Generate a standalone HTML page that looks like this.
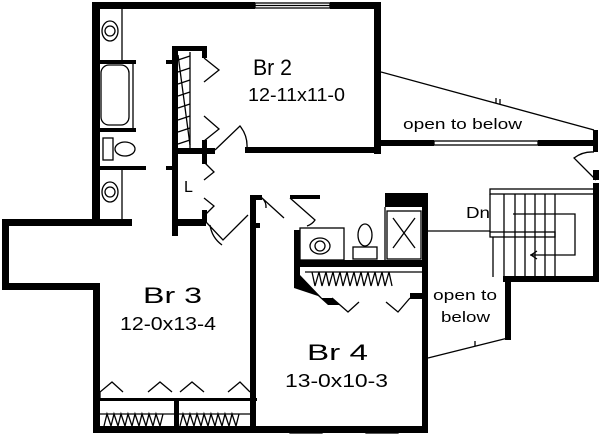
<!DOCTYPE html>
<html><head><meta charset="utf-8"><style>
html,body{margin:0;padding:0;background:#fff;}
svg{display:block}
text{font-family:"Liberation Sans",sans-serif;fill:#000}
</style></head><body>
<svg width="600" height="436" viewBox="0 0 600 436" xmlns="http://www.w3.org/2000/svg">
<g fill="#000" stroke="none">
<rect x="92" y="2" width="163" height="7"/>
<rect x="330" y="2" width="50" height="7"/>
<rect x="92" y="2" width="8" height="220"/>
<rect x="374" y="2" width="7" height="152"/>
<rect x="173" y="148" width="42" height="6"/>
<rect x="245" y="147" width="133" height="6"/>
<rect x="376" y="140" width="58" height="6"/>
<rect x="538" y="140" width="60" height="6"/>
<rect x="593" y="130" width="5" height="22"/>
<rect x="172" y="46" width="6" height="190"/>
<rect x="172" y="46" width="34" height="5"/>
<rect x="202" y="46" width="5" height="12"/>
<rect x="202" y="140" width="5" height="24"/>
<rect x="202" y="210" width="5" height="12"/>
<rect x="96" y="60" width="40" height="4"/>
<rect x="166" y="60" width="8" height="4"/>
<rect x="96" y="128" width="40" height="4"/>
<rect x="96" y="166" width="50" height="4"/>
<rect x="166" y="166" width="8" height="4"/>
<rect x="2" y="219" width="130" height="7"/>
<rect x="172" y="219" width="34" height="7"/>
<rect x="2" y="219" width="7" height="70"/>
<rect x="2" y="283" width="98" height="7"/>
<rect x="93" y="283" width="7" height="150"/>
<rect x="93" y="426" width="334" height="7"/>
<rect x="250" y="195" width="6" height="238"/>
<rect x="250" y="223" width="10" height="5"/>
<rect x="250" y="195" width="12" height="5"/>
<rect x="290" y="195" width="30" height="4"/>
<rect x="422" y="258" width="6" height="175"/>
<rect x="174" y="398" width="5" height="30"/>
<rect x="97" y="398" width="160" height="3"/>
<rect x="294" y="230" width="6" height="48"/>
<rect x="294" y="260" width="134" height="7"/>
<rect x="385" y="193" width="43" height="14"/>
<rect x="422" y="193" width="6" height="70"/>
<polygon points="294,275 300,275 322,298 332,298 340,305 328,305 318,296 294,288"/>
<rect x="410" y="293" width="18" height="6"/>
<rect x="593" y="183" width="6" height="97"/>
<rect x="503" y="276" width="96" height="6"/>
<rect x="505" y="276" width="6" height="64"/>
<rect x="593" y="170" width="6" height="10"/>
</g>
<g fill="none" stroke="#000" stroke-width="1.3">
<rect x="255" y="3" width="75" height="5"/>
<line x1="255" y1="5.5" x2="330" y2="5.5"/>
<rect x="434" y="141" width="104" height="4"/>
<rect x="3" y="236" width="5" height="36"/>
<rect x="290" y="428" width="32" height="5"/>
<rect x="366" y="428" width="32" height="5"/>
<line x1="122" y1="9" x2="122" y2="60"/>
<line x1="122" y1="170" x2="122" y2="219"/>
<line x1="133" y1="64" x2="133" y2="128"/>
<rect x="101" y="65" width="28" height="60" rx="8"/>
<ellipse cx="110" cy="31" rx="8" ry="10"/>
<circle cx="110" cy="31" r="5"/>
<ellipse cx="110" cy="192" rx="8" ry="10"/>
<circle cx="110" cy="192" r="5"/>
<rect x="103" y="138" width="10" height="22"/>
<ellipse cx="125" cy="149" rx="10" ry="7"/>
<line x1="178" y1="55" x2="190" y2="145"/>
<path d="M178 60 l12 -4 M178 72 l12 -4 M178 84 l12 -4 M178 96 l12 -4 M178 108 l12 -4 M178 120 l12 -4 M178 132 l12 -4 M178 144 l12 -4"/>
<line x1="190" y1="52" x2="190" y2="148"/>
<path d="M204 58 l15 12 l-15 12 M204 116 l15 13 l-15 12 M204 162 l10 10 l-10 8 M204 198 l10 8 l-10 10"/>
<path d="M215 150 l25 -24 a32 32 0 0 1 7 22"/>
<path d="M206 222 l17 18 l25 -25 M210 225 a30 30 0 0 0 12 20"/>
<path d="M262 198 l22 20 M290 198 l25 22 a15 15 0 0 1 -8 6 M262 198 a12 12 0 0 1 4 10"/>
<rect x="300" y="228" width="44" height="32"/>
<ellipse cx="320" cy="246" rx="10" ry="8"/>
<circle cx="320" cy="246" r="5"/>
<rect x="353" y="247" width="24" height="12"/>
<ellipse cx="365" cy="235" rx="7" ry="11"/>
<rect x="387" y="211" width="34" height="48"/>
<path d="M393 218 l22 30 M415 218 l-22 30"/>
<line x1="385" y1="207" x2="385" y2="260"/>
<line x1="428" y1="231" x2="490" y2="231"/>
<line x1="305" y1="272" x2="422" y2="272"/>
<path d="M312 272 l3 14 l4 -14 l3 14 l4 -14 l3 14 l4 -14 l3 14 l4 -14 l3 14 l4 -14 l3 14 l4 -14 l3 14 l4 -14 l3 14 l4 -14 l3 14 l4 -14 l3 14 l4 -14 l3 14 l4 -14 l3 14"/>
<path d="M332 298 l16 14 l11 -10 M410 298 l-12 14 l-12 -10"/>
<line x1="100" y1="414" x2="252" y2="414"/>
<path d="M104 426 l3 -12 l4 12 l3 -12 l4 12 l3 -12 l4 12 l3 -12 l4 12 l3 -12 l4 12 l3 -12 l4 12 l3 -12 l4 12 l3 -12 l4 12 l3 -12 M180 426 l3 -12 l4 12 l3 -12 l4 12 l3 -12 l4 12 l3 -12 l4 12 l3 -12 l4 12 l3 -12 l4 12 l3 -12 l4 12 l3 -12 l4 12 l3 -12"/>
<path d="M100 398 l0 -6 l12 -10 l11 10 M148 392 l12 -10 l12 10 M180 392 l12 -10 l12 10 M228 392 l12 -10 l10 10"/>
<path d="M381 72 L594 130 M496 103 l0 -5 M500 104 l0 -5"/>
<path d="M428 358 L508 338 M475 346 l0 -5"/>
<path d="M596 180 l-22 -22 a30 30 0 0 1 20 -6"/>
<rect x="490" y="189" width="105" height="5"/>
<rect x="490" y="232" width="65" height="5"/>
<line x1="490" y1="194" x2="490" y2="232"/>
<line x1="493" y1="237" x2="493" y2="277"/>
<path d="M504 194 V277 M515 194 V277 M525 194 V277 M535 194 V277 M545 194 V277 M555 194 V277"/>
<path d="M513 214 H575 V255 H530 M537 251 l-6 4 l6 4"/>
</g>
<g font-size="22">
<text x="253" y="75" textLength="39" lengthAdjust="spacingAndGlyphs">Br 2</text>
<text x="143" y="303" textLength="59" lengthAdjust="spacingAndGlyphs">Br 3</text>
<text x="307" y="360" textLength="61" lengthAdjust="spacingAndGlyphs">Br 4</text>
</g>
<g font-size="18">
<text x="248" y="101" textLength="97" lengthAdjust="spacingAndGlyphs">12-11x11-0</text>
<text x="120" y="330" textLength="96" lengthAdjust="spacingAndGlyphs">12-0x13-4</text>
<text x="285" y="387" textLength="103" lengthAdjust="spacingAndGlyphs">13-0x10-3</text>
</g>
<g font-size="15">
<text x="403" y="129" textLength="119" lengthAdjust="spacingAndGlyphs">open to below</text>
<text x="433" y="300" textLength="64" lengthAdjust="spacingAndGlyphs">open to</text>
<text x="441" y="322" textLength="49" lengthAdjust="spacingAndGlyphs">below</text>
<text x="466" y="218" textLength="24" lengthAdjust="spacingAndGlyphs" font-size="16">Dn</text>
<text x="184" y="192" font-size="16">L</text>
</g>
</svg>
</body></html>
